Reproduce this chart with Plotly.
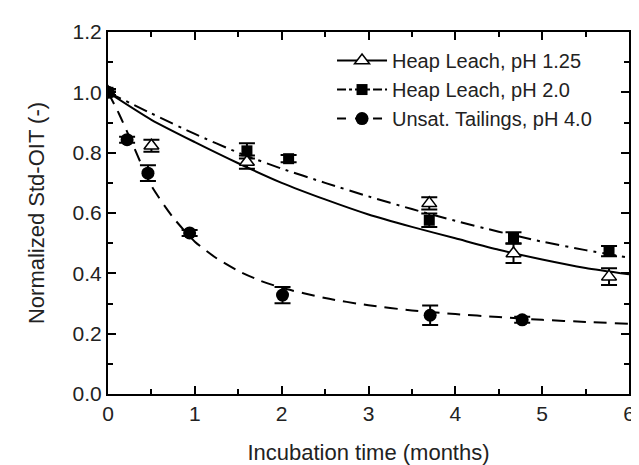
import plotly.graph_objects as go

t_ph125 = [0, 0.5, 1.6, 3.7, 4.67, 5.77]
y_ph125 = [1.0, 0.823, 0.769, 0.632, 0.466, 0.389]
e_ph125 = [0.01, 0.02, 0.022, 0.02, 0.032, 0.028]

t_ph20 = [0, 1.6, 2.08, 3.7, 4.67, 5.77]
y_ph20 = [1.0, 0.806, 0.78, 0.576, 0.518, 0.474]
e_ph20 = [0.01, 0.025, 0.012, 0.022, 0.018, 0.017]

t_ph40 = [0, 0.22, 0.46, 0.94, 2.01, 3.71, 4.77]
y_ph40 = [1.0, 0.843, 0.732, 0.534, 0.328, 0.261, 0.246]
e_ph40 = [0.01, 0.01, 0.026, 0.01, 0.027, 0.032, 0.01]

# ---- fitted curves ----
fit_t_ph125 = [0, 0.5, 1, 1.5, 2, 2.5, 3, 3.5, 4, 4.5, 5, 5.5, 6]
fit_y_ph125 = [1.0, 0.909, 0.835, 0.765, 0.70, 0.645, 0.595, 0.554, 0.516, 0.478, 0.446, 0.418, 0.397]

fit_t_ph20 = [0, 0.5, 1, 1.5, 2, 2.5, 3, 3.5, 4, 4.5, 5, 5.5, 6]
fit_y_ph20 = [1.0, 0.93, 0.862, 0.80, 0.747, 0.70, 0.655, 0.613, 0.574, 0.538, 0.505, 0.477, 0.452]

fit_t_ph40 = [0, 0.125, 0.25, 0.5, 0.75, 1, 1.25, 1.5, 1.75, 2, 2.5, 3, 3.5, 4, 4.5, 5, 5.5, 6]
fit_y_ph40 = [1.0, 0.93, 0.85, 0.69, 0.585, 0.505, 0.45, 0.408, 0.376, 0.352, 0.318, 0.294, 0.277, 0.265, 0.255, 0.246, 0.239, 0.233]

names = ["Heap Leach, pH 1.25", "Heap Leach, pH 2.0", "Unsat. Tailings, pH 4.0"]

FONT = "Liberation Sans, Arial, sans-serif"
DASH_DASHDOT = "14px,6px,3px,6px"
DASH_DASH = "13px,8px"

fig = go.Figure()

# fitted curves
fig.add_trace(go.Scatter(x=fit_t_ph125, y=fit_y_ph125, mode="lines", showlegend=False,
                         line=dict(color="black", width=2, shape="spline", smoothing=0.6)))
fig.add_trace(go.Scatter(x=fit_t_ph20, y=fit_y_ph20, mode="lines", showlegend=False,
                         line=dict(color="black", width=2, dash=DASH_DASHDOT, shape="spline", smoothing=0.6)))
fig.add_trace(go.Scatter(x=fit_t_ph40, y=fit_y_ph40, mode="lines", showlegend=False,
                         line=dict(color="black", width=2, dash=DASH_DASH, shape="spline", smoothing=0.6)))

err_style = dict(type="data", visible=True, color="black", thickness=2, width=8)

# markers with error bars
fig.add_trace(go.Scatter(x=t_ph20, y=y_ph20, mode="markers", showlegend=False,
                         marker=dict(symbol="square", size=11, color="black"),
                         error_y=dict(array=e_ph20, **err_style)))
fig.add_trace(go.Scatter(x=t_ph125, y=y_ph125, mode="markers", showlegend=False,
                         marker=dict(symbol="triangle-up", size=13, color="white",
                                     line=dict(color="black", width=1.5)),
                         error_y=dict(array=e_ph125, **err_style)))
fig.add_trace(go.Scatter(x=t_ph40, y=y_ph40, mode="markers", showlegend=False,
                         marker=dict(symbol="circle", size=13, color="black"),
                         error_y=dict(array=e_ph40, **err_style)))

# legend entries
fig.add_trace(go.Scatter(x=[None], y=[None], mode="lines+markers", name=names[0],
                         line=dict(color="black", width=2),
                         marker=dict(symbol="triangle-up", size=13, color="white",
                                     line=dict(color="black", width=1.5))))
fig.add_trace(go.Scatter(x=[None], y=[None], mode="lines+markers", name=names[1],
                         line=dict(color="black", width=2, dash="dashdot"),
                         marker=dict(symbol="square", size=11, color="black")))
fig.add_trace(go.Scatter(x=[None], y=[None], mode="lines+markers", name=names[2],
                         line=dict(color="black", width=2, dash="dash"),
                         marker=dict(symbol="circle", size=13, color="black")))

axis_common = dict(showline=True, linecolor="black", linewidth=2, mirror="ticks",
                   ticks="inside", ticklen=8, tickwidth=2, tickcolor="black",
                   showgrid=False, zeroline=False,
                   tickfont=dict(family=FONT, size=21, color="#222"))

fig.update_xaxes(range=[0, 6], dtick=1, tick0=0,
                 minor=dict(ticks="inside", ticklen=5, tickwidth=2, dtick=0.5, tickcolor="black"),
                 title=dict(text="Incubation time (months)", font=dict(family=FONT, size=22, color="#222"),
                            standoff=20),
                 **axis_common)
fig.update_yaxes(range=[0, 1.2], dtick=0.2, tick0=0, tickformat=".1f",
                 minor=dict(ticks="inside", ticklen=5, tickwidth=2, dtick=0.1, tickcolor="black"),
                 title=dict(text="Normalized Std-OIT (-)", font=dict(family=FONT, size=22, color="#222"),
                            standoff=22),
                 **axis_common)

fig.update_layout(
    width=639, height=465,
    margin=dict(l=100, r=15, t=15, b=72),
    paper_bgcolor="white", plot_bgcolor="white",
    font=dict(family=FONT, color="#222"),
    legend=dict(x=0.43, y=0.975, xanchor="left", yanchor="top",
                bgcolor="rgba(0,0,0,0)", borderwidth=0,
                font=dict(family=FONT, size=20, color="#222"),
                itemwidth=50, tracegroupgap=0),
)

fig.write_html("out.html")
